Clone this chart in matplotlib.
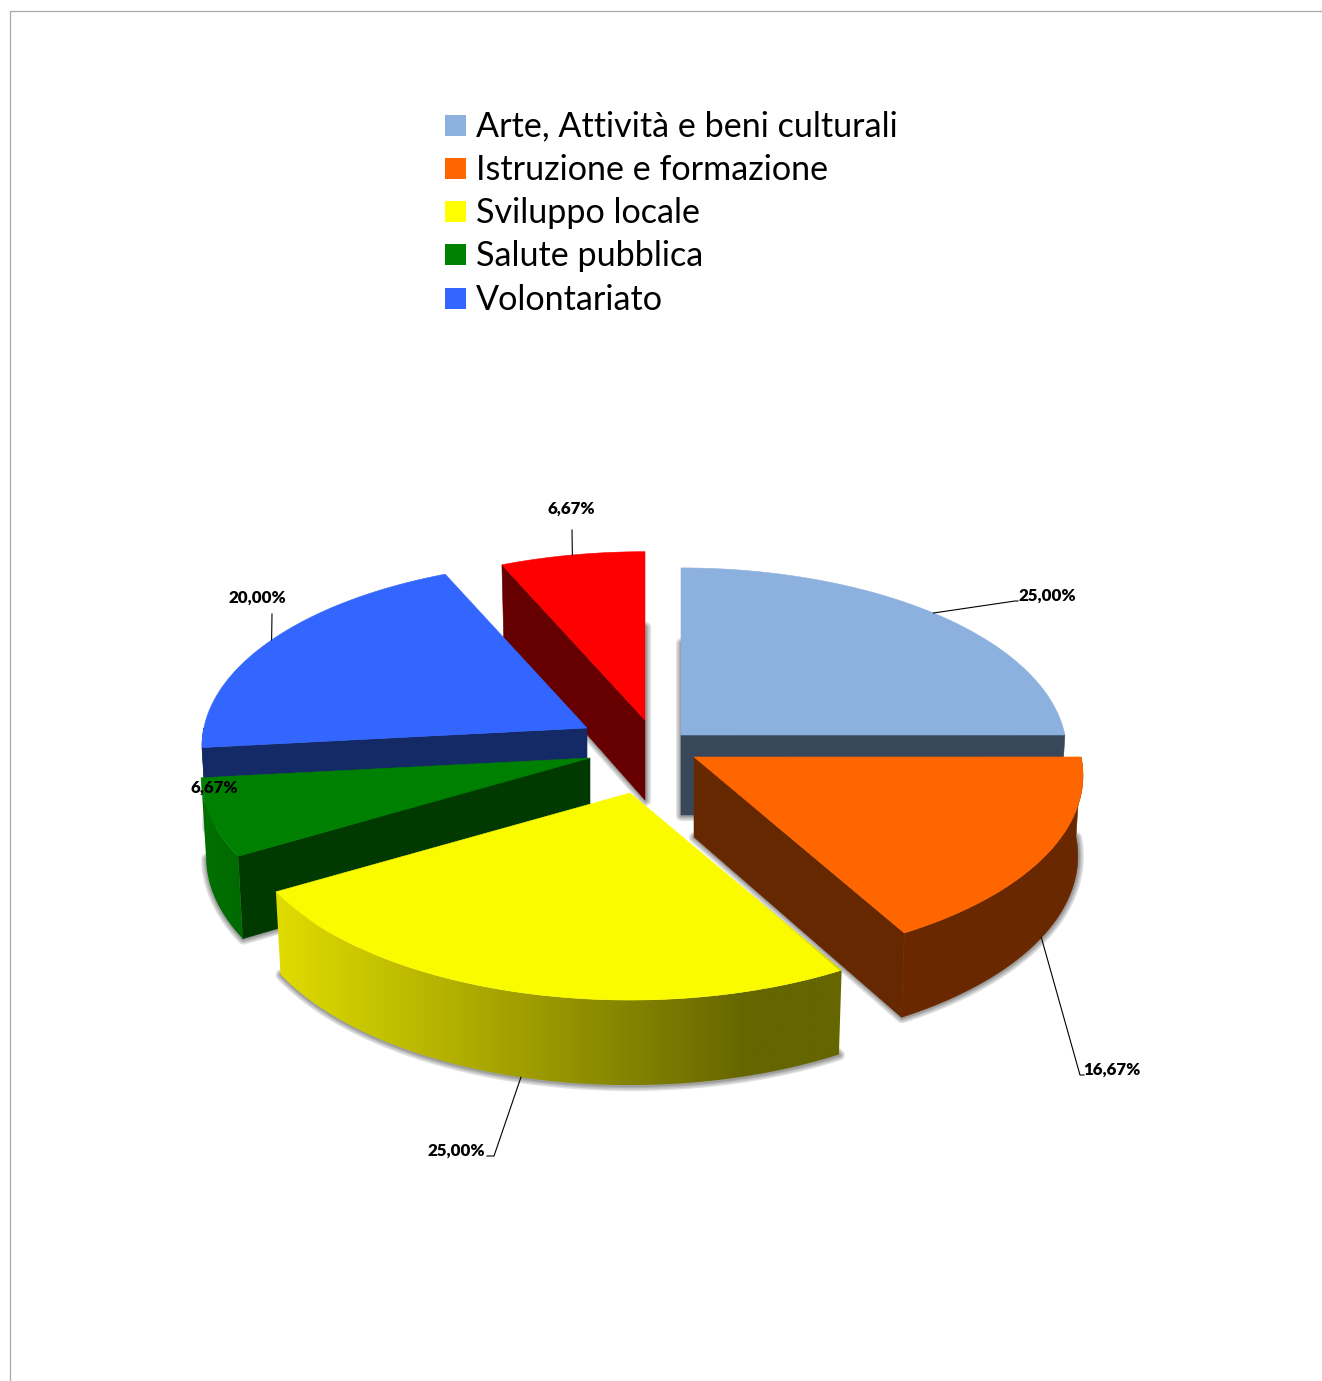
import numpy as np
import matplotlib

matplotlib.use('Agg')
from matplotlib import pyplot as plt
from matplotlib.colors import to_rgb
from matplotlib.patches import Polygon, Rectangle

plt.rcParams['font.family'] = ['Lato', 'DejaVu Sans']

W, H = 1322, 1381

# legend
categories = ['Arte, Attività e beni culturali', 'Istruzione e formazione',
              'Sviluppo locale', 'Salute pubblica', 'Volontariato']
legend_colors = ['#8db1de', '#ff6600', '#ffff00', '#008000', '#3366ff']

# slices, clockwise from 12 o'clock
values = [25.00, 16.67, 25.00, 6.67, 20.00, 6.67]
top_colors = ['#8db1de', '#ff6600', '#fbfb00', '#008000', '#3366ff', '#ff0000']
cut_colors = ['#38475a', '#662800', '#5f5f00', '#003a00', '#142a66', '#660000']
rim_right = ['#38475a', '#692800', '#666600', '#006a00', '#142a66', '#660000']
rim_left = ['#38475a', '#692800', '#e0dc00', '#007000', '#142a66', '#660000']
# share of the wall width, from the right, that keeps the flat dark colour
rim_flat = [0.0, 0.0, 0.17, 0.0, 0.0, 0.0]

# pixel shift of each exploded slice from the pie centre
center = (645, 748)
explode = [(36, -13), (49, 9), (-15, 45), (-55, 10), (-58, -20), (0, -28)]
radius = [0.992, 1, 1.006, 1, 0.99, 1]
draw_order = [0, 5, 4, 3, 2, 1]

RX, RY = 387, 187
PERSP = 0.1
DEPTH = 80
BOTTOM_SHRINK = 0.987

# label centre and leader elbow for each slice
label_pos = [(1047, 596), (1112, 1070), (456, 1151), (214, 788), (257, 598), (571, 509)]
leader_elbow = [[(1015, 601), (1018, 601)], [(1080, 1075), (1084, 1075)],
                [(494, 1156), (487, 1156)], None,
                [(272, 614)], [(572, 530)]]


def project(apex, theta, r=1.0, bottom=False):
    # theta in radians, clockwise from the back of the disc
    u = r * np.sin(theta)
    v = -r * np.cos(theta)
    f = 1 + PERSP * v
    x = RX * u * f
    y = RY * v * f
    if bottom:
        x = x * BOTTOM_SHRINK
        y = y + DEPTH + 5 * v
    return np.column_stack([apex[0] + x, apex[1] + y])


fig = plt.figure(figsize=(W / 100, H / 100), dpi=100)
ax = fig.add_axes([0, 0, 1, 1])
ax.set_xlim(0, W)
ax.set_ylim(H, 0)
ax.axis('off')

# page border
ax.plot([W, 10, 10], [11, 11, H], color='#a8a8a8', lw=0.9)

edges = np.radians(np.cumsum([0] + values) / sum(values) * 360)
z = 2


def add_poly(pts, color):
    global z
    z += 1
    ax.add_patch(Polygon(pts, closed=True, facecolor=color, edgecolor=color, lw=0.4, zorder=z))


for i in draw_order:
    t0, t1 = edges[i], edges[i + 1]
    r = radius[i]
    apex = (center[0] + explode[i][0], center[1] + explode[i][1])
    thetas = np.linspace(t0, t1, 80)
    apex_bot = project(apex, np.zeros(1), 0, True)

    # soft shadow under the slice: bottom face stroked with growing width
    bot = np.vstack([apex_bot, project(apex, thetas, r, True)])
    for lw in [11, 8, 5, 3]:
        z += 1
        ax.add_patch(Polygon(bot + [0.5, 0.5], closed=True, facecolor='none',
                             edgecolor='#404040', alpha=0.16, lw=lw * 0.72,
                             joinstyle='round', zorder=z))

    # cut faces, only the ones turned towards the viewer
    for th, sign in [(t0, -1), (t1, 1)]:
        if sign * np.sin(th) > 0.001:
            rim_t = project(apex, np.array([th]), r)[0]
            rim_b = project(apex, np.array([th]), r, True)[0]
            add_poly([apex, rim_t, rim_b, apex_bot[0]], cut_colors[i])

    # outer wall, shaded left to right when its two colours differ
    lo, hi = max(t0, np.pi / 2), min(t1, 3 * np.pi / 2)
    if hi > lo:
        sweep = np.linspace(lo, hi, 80)
        wall = np.vstack([project(apex, sweep, r), project(apex, sweep[::-1], r, True)])
        if rim_left[i] == rim_right[i]:
            add_poly(wall, rim_left[i])
        else:
            x0, x1 = wall[:, 0].min(), wall[:, 0].max()
            frac = np.linspace(0, 1, 256)
            s = np.clip(frac / (1 - rim_flat[i]), 0, 1)[:, None]
            c_l, c_r = np.array(to_rgb(rim_left[i])), np.array(to_rgb(rim_right[i]))
            z += 1
            im = ax.imshow((c_l + (c_r - c_l) * s)[None, :, :],
                           extent=[x0, x1, wall[:, 1].max(), wall[:, 1].min()],
                           aspect='auto', interpolation='bilinear', zorder=z)
            im.set_clip_path(Polygon(wall, closed=True, transform=ax.transData))

    # top face
    add_poly(np.vstack([[apex], project(apex, thetas, r)]), top_colors[i])

ax.set_xlim(0, W)
ax.set_ylim(H, 0)

# data labels with leader lines from the middle of each slice
for i, v in enumerate(values):
    text = f'{v:.2f}%'.replace('.', ',')
    ax.text(label_pos[i][0], label_pos[i][1], text, ha='center', va='center',
            fontsize=12.2, fontweight='heavy', color='black', zorder=1000)
    if leader_elbow[i] is None:
        continue
    mid = (edges[i] + edges[i + 1]) / 2
    apex = (center[0] + explode[i][0], center[1] + explode[i][1])
    on_front = -np.cos(mid) > 0
    start = project(apex, np.array([mid]), radius[i], on_front)[0]
    pts = np.vstack([[start], leader_elbow[i]])
    ax.plot(pts[:, 0], pts[:, 1], color='black', lw=0.8, zorder=999)

# legend
for k, name in enumerate(categories):
    yc = 125 + k * 43.3
    ax.add_patch(Rectangle((445, yc - 10.5), 21, 21, facecolor=legend_colors[k], edgecolor='none'))
    ax.text(476, yc - 1.5, name, ha='left', va='center_baseline', fontsize=24.6, color='black')

fig.savefig('out.png', dpi=100, facecolor='white')
